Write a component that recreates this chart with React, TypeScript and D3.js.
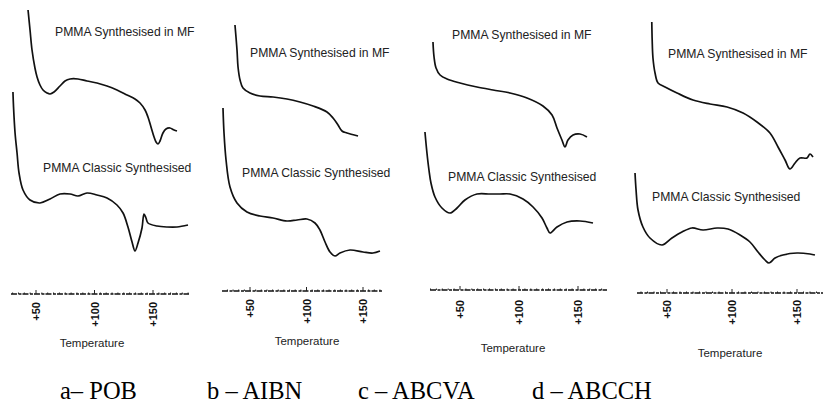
import * as d3 from "d3";

// DSC thermograms: [temperature °C, heat flow (a.u.)]
const mfPOB: [number, number][] = [
  [43.2, 290], [44.9, 270], [46.6, 250], [49.1, 232], [50.9, 223], [53.4, 215], [56.0, 210],
  [59.4, 207], [62.0, 206], [65.4, 208], [70.5, 214], [74.8, 219], [79.1, 221], [85.9, 221],
  [93.6, 219], [102.1, 217], [110.7, 214], [119.2, 210], [127.8, 205], [134.6, 201],
  [138.9, 197], [143.2, 190], [145.7, 183], [148.3, 173], [150.9, 163], [152.6, 158],
  [154.3, 156], [156.0, 159], [158.5, 167], [161.1, 171], [164.5, 172], [168.0, 170], [170.5, 169],
];
const classicPOB: [number, number][] = [
  [30.3, 208], [30.8, 193], [32.1, 167], [33.8, 147], [35.5, 127], [38.9, 110], [44.9, 100],
  [53.4, 97], [62.0, 101], [70.5, 106], [79.1, 106], [85.9, 104], [93.6, 107], [102.1, 105],
  [110.7, 102], [119.2, 95], [124.4, 87], [128.6, 73], [132.1, 58], [134.6, 49], [137.2, 57],
  [140.6, 72], [142.3, 86], [144.0, 82], [145.7, 77], [153.4, 74], [162.0, 73], [170.5, 73], [179.9, 75],
];
const mfAIBN: [number, number][] = [
  [36.7, 275], [38.5, 250], [39.4, 233], [41.2, 220], [43.8, 212], [50.0, 207], [58.8, 204],
  [70.4, 203], [82.7, 201], [94.2, 198], [105.8, 194], [118.1, 188], [123.5, 182], [127.9, 175],
  [131.4, 169], [135.8, 167], [145.6, 164],
];
const classicAIBN: [number, number][] = [
  [26.1, 192], [27.0, 167], [28.8, 140], [32.3, 113], [38.5, 97], [47.3, 88], [58.8, 84],
  [70.4, 82], [82.7, 79], [91.6, 80], [100.4, 81], [107.5, 77], [111.9, 70], [116.4, 58],
  [120.8, 48], [125.2, 44], [129.6, 47], [138.5, 50], [150.0, 48], [158.8, 47], [165.0, 49],
];
const mfABCVA: [number, number][] = [
  [27.1, 258], [28.0, 243], [29.7, 232], [33.1, 225], [39.0, 221], [50.0, 217], [64.4, 213],
  [78.0, 210], [92.4, 207], [106.8, 202], [120.3, 194], [128.0, 185], [132.2, 172], [136.4, 160],
  [139.0, 153], [141.5, 160], [145.8, 165], [151.7, 166], [157.6, 163],
];
const classicABCVA: [number, number][] = [
  [20.3, 168], [22.0, 147], [23.7, 130], [25.4, 117], [28.8, 103], [34.7, 92], [41.5, 87],
  [47.5, 92], [54.2, 100], [64.4, 106], [75.4, 106], [83.9, 106], [92.4, 106], [103.4, 101],
  [111.9, 93], [119.5, 82], [123.7, 72], [126.3, 67], [132.2, 73], [140.7, 78], [151.7, 79], [162.7, 77],
];
const mfABCCH: [number, number][] = [
  [38.3, 278], [38.6, 260], [39.2, 242], [40.8, 227], [43.1, 217], [48.5, 213], [57.7, 207],
  [70.0, 200], [83.1, 196], [96.2, 193], [108.5, 187], [119.2, 178], [129.2, 167], [135.4, 153],
  [140.8, 140], [144.6, 131], [148.5, 137], [152.3, 142], [157.7, 142], [160.0, 146], [162.3, 143],
];
const classicABCCH: [number, number][] = [
  [25.4, 127], [26.2, 110], [27.7, 90], [31.5, 73], [36.9, 62], [46.2, 55], [53.8, 62],
  [61.5, 68], [69.2, 72], [77.7, 70], [88.5, 72], [96.9, 71], [106.2, 65], [113.8, 58],
  [120.0, 48], [125.4, 40], [128.5, 37], [133.1, 42], [139.2, 45], [150.0, 47], [160.0, 46], [163.8, 45],
];

const captions = ["a– POB", "b – AIBN", "c – ABCVA", "d – ABCCH"];
const tickTemps = [50, 100, 150];
const tickLabels = ["+50", "+100", "+150"];
const mfLabel = "PMMA Synthesised in MF";
const classicLabel = "PMMA Classic Synthesised";
const axisTitle = "Temperature";
const axisRanges: [number, number][] = [[28.6, 180.8], [25.2, 167.7], [24.6, 174.6], [26.9, 170]];

// layout of each scanned panel (pixels)
const layout = [
  { x50: 36, x150: 153, axisY: 294, labTop: 302, titleX: 92, titleY: 347, mf: [55, 36], cl: [43, 172], capX: 60 },
  { x50: 250, x150: 363, axisY: 291, labTop: 299, titleX: 307, titleY: 345, mf: [250, 57], cl: [242, 177], capX: 207 },
  { x50: 460, x150: 578, axisY: 290, labTop: 300, titleX: 513, titleY: 352, mf: [452, 39], cl: [448, 181], capX: 358 },
  { x50: 667, x150: 797, axisY: 293, labTop: 300, titleX: 730, titleY: 357, mf: [668, 58], cl: [652, 201], capX: 532 },
];

const curves = [
  [mfPOB, classicPOB],
  [mfAIBN, classicAIBN],
  [mfABCVA, classicABCVA],
  [mfABCCH, classicABCCH],
];

const W = 823;
const H = 416;
const sans = "'Liberation Sans', Arial, sans-serif";

export default function App() {
  const y = d3.scaleLinear().domain([0, 300]).range([300, 0]);

  return (
    <svg width={W} height={H} style={{ position: "absolute", left: 0, top: 0, background: "#fff" }}>
      {layout.map((p, i) => {
        const x = d3.scaleLinear().domain([50, 150]).range([p.x50, p.x150]);
        const line = d3
          .line<[number, number]>()
          .x((d) => x(d[0]))
          .y((d) => y(d[1]))
          .curve(d3.curveCatmullRom.alpha(0.5));
        const [t0, t1] = axisRanges[i];
        const minor = d3.range(Math.ceil(t0 / 5) * 5, t1, 5);
        return (
          <g key={i}>
            {curves[i].map((c, j) => (
              <path key={j} d={line(c) || ""} fill="none" stroke="#111" strokeWidth={1.7} strokeLinejoin="round" />
            ))}
            <text x={p.mf[0]} y={p.mf[1]} fontFamily={sans} fontSize={12.2} fill="#222">{mfLabel}</text>
            <text x={p.cl[0]} y={p.cl[1]} fontFamily={sans} fontSize={12.2} fill="#222">{classicLabel}</text>

            {/* temperature axis */}
            <line x1={x(t0)} x2={x(t1)} y1={p.axisY} y2={p.axisY} stroke="#111" strokeWidth={1.3} strokeDasharray="6 1.5 3 1" />
            {minor.map((t) => (
              <line key={t} x1={x(t)} x2={x(t)} y1={p.axisY} y2={p.axisY - (t % 50 === 0 ? 4 : 1.5)} stroke="#222" strokeWidth={1} />
            ))}
            {tickTemps.map((t, k) => (
              <text
                key={t}
                transform={`translate(${x(t) + 4},${p.labTop}) rotate(-90)`}
                textAnchor="end"
                fontFamily={sans}
                fontSize={11}
                fontWeight="bold"
                fill="#111"
              >
                {tickLabels[k]}
              </text>
            ))}
            <text x={p.titleX} y={p.titleY} textAnchor="middle" fontFamily={sans} fontSize={11.5} fill="#222">{axisTitle}</text>
            <text x={p.capX} y={399} fontFamily="'Liberation Serif', 'Times New Roman', serif" fontSize={24.5} fill="#000">{captions[i]}</text>
          </g>
        );
      })}
    </svg>
  );
}
